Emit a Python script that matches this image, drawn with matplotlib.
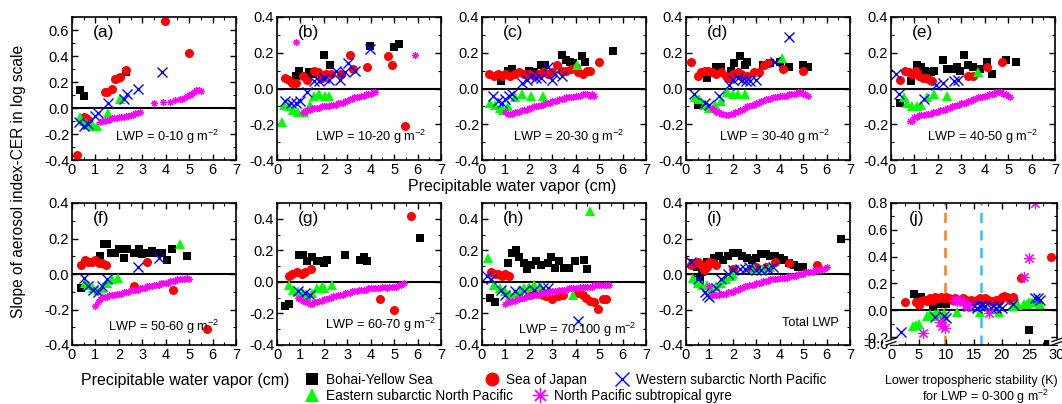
import numpy as np
import matplotlib
matplotlib.use("Agg")
import matplotlib.pyplot as plt
from matplotlib.lines import Line2D
from matplotlib.ticker import MultipleLocator, FixedLocator

plt.rcParams['font.family'] = ['Liberation Sans', 'DejaVu Sans']
plt.rcParams['mathtext.fontset'] = 'custom'
plt.rcParams['mathtext.rm'] = 'Liberation Sans'
plt.rcParams['mathtext.it'] = 'Liberation Sans'

# ---- data: (x, slope) pairs ----
# bys = Bohai-Yellow Sea, soj = Sea of Japan, wsnp = Western subarctic N Pacific,
# esnp = Eastern subarctic N Pacific, npsg = N Pacific subtropical gyre
bys_a = [(0.35, 0.14), (0.5, 0.09), (2.3, 0.28)]
soj_a = [(0.2, -0.36), (0.5, -0.07), (0.6, -0.08), (0.7, -0.09), (1.4, 0.12), (1.5, 0.12), (1.7, 0.15),
         (1.85, 0.22), (1.95, 0.23), (2.05, 0.24), (2.3, 0.29), (3.95, 0.67), (5.0, 0.42)]
wsnp_a = [(0.3, -0.11), (0.5, -0.14), (0.7, -0.12), (1.0, -0.06), (1.1, -0.04), (1.55, 0.04),
          (2.2, 0.07), (2.35, 0.11), (2.8, 0.15), (3.85, 0.28)]
esnp_a = [(0.35, -0.07), (0.5, -0.1), (0.6, -0.12), (0.75, -0.13), (0.9, -0.14), (1.05, -0.14),
          (1.55, -0.04), (2.05, 0.07)]
npsg_a = [(1.2, -0.11), (1.3, -0.10), (1.4, -0.10), (1.5, -0.09), (1.6, -0.09), (1.7, -0.08), (1.8, -0.08),
          (1.9, -0.08), (2.0, -0.07), (2.1, -0.07), (2.2, -0.07), (2.3, -0.06), (2.4, -0.06), (2.5, -0.05),
          (2.6, -0.05), (2.7, -0.04), (2.8, -0.04), (2.9, -0.03), (3.5, 0.04), (3.9, 0.05), (4.2, 0.05),
          (4.4, 0.06), (4.6, 0.07), (4.7, 0.07), (4.8, 0.08), (4.9, 0.09), (5.05, 0.10), (5.1, 0.11),
          (5.2, 0.12), (5.3, 0.14), (5.4, 0.14), (5.5, 0.13)]

bys_b = [(0.8, 0.07), (0.95, 0.1), (1.2, 0.07), (1.35, 0.09), (1.55, 0.08), (2.0, 0.19), (2.25, 0.13),
         (3.95, 0.24), (5.0, 0.23), (5.2, 0.25)]
soj_b = [(0.35, 0.06), (0.5, 0.05), (0.65, 0.03), (0.8, 0.03), (1.1, 0.07), (1.3, 0.05), (1.6, 0.1),
         (1.75, 0.09), (1.9, 0.06), (2.1, 0.08), (2.3, 0.08), (2.75, 0.08), (3.1, 0.19), (3.25, 0.11),
         (3.85, 0.12), (4.75, 0.18), (4.9, 0.13), (5.45, -0.21)]
wsnp_b = [(0.35, -0.07), (0.6, -0.08), (0.8, -0.08), (1.0, -0.07), (1.3, -0.02), (1.6, 0.04), (1.8, 0.04),
          (2.0, 0.06), (2.2, 0.05), (2.5, 0.1), (2.7, 0.05), (2.9, 0.09), (3.05, 0.14), (3.35, 0.1),
          (3.95, 0.22)]
esnp_b = [(0.2, -0.19), (0.3, -0.09), (0.5, -0.1), (0.7, -0.12), (0.9, -0.13), (1.15, -0.13),
          (1.4, -0.09), (1.6, -0.04), (1.8, -0.03), (2.05, -0.04), (2.2, -0.04)]
npsg_b = [(0.8, 0.26), (1.1, -0.13), (1.2, -0.13), (1.3, -0.12), (1.4, -0.12), (1.5, -0.11), (1.6, -0.11),
          (1.7, -0.11), (1.8, -0.11), (1.9, -0.10), (2.0, -0.10), (2.1, -0.10), (2.2, -0.10), (2.3, -0.09),
          (2.4, -0.09), (2.5, -0.09), (2.6, -0.08), (2.7, -0.08), (2.8, -0.08), (2.9, -0.07), (3.0, -0.07),
          (3.1, -0.06), (3.2, -0.06), (3.3, -0.05), (3.4, -0.05), (3.5, -0.05), (3.6, -0.04), (3.7, -0.04),
          (3.8, -0.03), (3.9, -0.03), (4.0, -0.03), (4.1, -0.02), (4.2, -0.02), (5.9, 0.19)]

bys_c = [(0.8, 0.04), (1.1, 0.10), (1.3, 0.11), (2.0, 0.10), (2.2, 0.09), (2.5, 0.13), (2.7, 0.13),
         (3.4, 0.19), (3.6, 0.16), (3.75, 0.15), (3.9, 0.14), (4.25, 0.18), (4.4, 0.15), (5.6, 0.21)]
soj_c = [(0.3, 0.08), (0.5, 0.07), (0.7, 0.08), (0.85, 0.07), (1.0, 0.08), (1.2, 0.07), (1.4, 0.08),
         (1.6, 0.09), (1.8, 0.08), (2.0, 0.08), (2.2, 0.07), (2.4, 0.08), (2.6, 0.09), (2.8, 0.08),
         (3.0, 0.09), (3.2, 0.13), (3.4, 0.10), (3.6, 0.10), (3.8, 0.11), (4.0, 0.12), (4.1, 0.09),
         (4.3, 0.08), (4.5, 0.10), (4.6, 0.10), (5.0, 0.15)]
wsnp_c = [(0.45, -0.04), (0.7, -0.07), (0.85, -0.08), (1.0, -0.06), (1.15, -0.04), (1.3, -0.03),
          (1.7, 0.03), (1.9, 0.05), (2.1, 0.07), (2.3, 0.06), (2.5, 0.06), (2.8, 0.12), (3.0, 0.05),
          (3.1, 0.08), (3.4, 0.07)]
esnp_c = [(0.35, -0.08), (0.55, -0.09), (0.75, -0.11), (0.9, -0.12), (1.1, -0.10), (1.4, -0.05),
          (1.7, -0.03), (2.1, -0.04), (2.6, -0.04), (4.05, 0.13)]
npsg_c = [(1.0, -0.13), (1.1, -0.14), (1.2, -0.14), (1.3, -0.14), (1.4, -0.13), (1.5, -0.13), (1.6, -0.13),
          (1.7, -0.12), (1.8, -0.12), (1.9, -0.12), (2.0, -0.11), (2.1, -0.11), (2.2, -0.10), (2.3, -0.10),
          (2.4, -0.10), (2.5, -0.09), (2.6, -0.09), (2.7, -0.08), (2.8, -0.08), (2.9, -0.08), (3.0, -0.07),
          (3.1, -0.07), (3.2, -0.07), (3.3, -0.06), (3.4, -0.06), (3.5, -0.06), (3.6, -0.05), (3.7, -0.05),
          (3.8, -0.05), (3.9, -0.05), (4.0, -0.04), (4.1, -0.04), (4.2, -0.04), (4.3, -0.03), (4.4, -0.03),
          (4.5, -0.03), (4.6, -0.04), (4.7, -0.03), (4.8, -0.04)]

bys_d = [(0.5, -0.09), (0.9, 0.06), (1.3, 0.12), (1.5, 0.12), (1.9, 0.10), (2.05, 0.14), (2.3, 0.18),
         (2.5, 0.13), (2.6, 0.15), (3.3, 0.13), (3.6, 0.14), (4.0, 0.15), (4.4, 0.12), (5.0, 0.13), (5.2, 0.12)]
soj_d = [(0.2, 0.15), (0.5, 0.07), (0.65, 0.09), (0.8, 0.10), (0.95, 0.10), (1.1, 0.09), (1.3, 0.08),
         (1.5, 0.09), (1.7, 0.07), (1.85, 0.06), (2.0, 0.08), (2.2, 0.09), (2.35, 0.08), (2.6, 0.07),
         (2.9, 0.09), (3.1, 0.09), (3.35, 0.13), (3.5, 0.14), (4.15, 0.11), (5.0, 0.10)]
wsnp_d = [(0.35, -0.03), (0.8, -0.08), (1.0, -0.09), (1.4, -0.04), (1.85, 0.02), (2.0, 0.05), (2.2, 0.06),
          (2.4, 0.05), (2.55, 0.04), (2.75, 0.04), (3.0, 0.05), (3.8, 0.15), (4.4, 0.29)]
esnp_d = [(0.4, -0.05), (0.55, -0.06), (0.75, -0.09), (1.0, -0.11), (1.25, -0.09), (1.5, -0.07),
          (1.75, -0.02), (2.0, -0.03), (2.2, -0.03), (2.5, -0.03), (4.1, 0.17)]
npsg_d = [(1.1, -0.11), (1.2, -0.12), (1.3, -0.13), (1.4, -0.13), (1.5, -0.14), (1.6, -0.14), (1.7, -0.15),
          (1.8, -0.15), (1.9, -0.14), (2.0, -0.14), (2.1, -0.13), (2.2, -0.13), (2.3, -0.12), (2.4, -0.12),
          (2.5, -0.11), (2.6, -0.10), (2.7, -0.10), (2.8, -0.09), (2.9, -0.09), (3.0, -0.08), (3.1, -0.08),
          (3.2, -0.07), (3.3, -0.07), (3.4, -0.06), (3.5, -0.06), (3.6, -0.06), (3.7, -0.05), (3.8, -0.05),
          (3.9, -0.05), (4.0, -0.04), (4.1, -0.04), (4.2, -0.04), (4.3, -0.04), (4.4, -0.03), (4.5, -0.03),
          (4.6, -0.03), (4.7, -0.03), (4.8, -0.02), (4.9, -0.02), (5.0, -0.03), (5.1, -0.03), (5.2, -0.04)]

bys_e = [(0.4, -0.08), (0.85, 0.04), (1.1, 0.13), (1.3, 0.12), (1.45, 0.10), (1.7, 0.09), (1.85, 0.10),
         (2.2, 0.16), (2.4, 0.11), (2.6, 0.11), (2.8, 0.12), (2.95, 0.10), (3.1, 0.19), (3.3, 0.13),
         (3.5, 0.12), (3.8, 0.11), (4.1, 0.15), (4.3, 0.08), (4.9, 0.16), (5.35, 0.15)]
soj_e = [(0.4, 0.05), (0.6, 0.10), (0.75, 0.09), (0.9, 0.08), (1.05, 0.10), (1.2, 0.07), (1.35, 0.06),
         (1.5, 0.06), (1.65, 0.05), (1.75, 0.04), (3.3, 0.07), (3.5, 0.07), (4.1, 0.12), (4.75, 0.15)]
wsnp_e = [(0.2, 0.08), (0.35, -0.03), (1.4, -0.06), (1.9, 0.02), (2.2, 0.03), (2.7, 0.04), (2.85, 0.05)]
esnp_e = [(0.55, -0.05), (0.7, -0.08), (0.9, -0.10), (1.1, -0.10), (1.3, -0.09), (1.55, -0.05),
          (1.85, -0.03), (2.4, -0.04), (3.7, 0.09)]
npsg_e = [(0.8, -0.18), (0.9, -0.18), (1.0, -0.16), (1.1, -0.16), (1.2, -0.15), (1.3, -0.15), (1.4, -0.15),
          (1.5, -0.14), (1.6, -0.14), (1.7, -0.14), (1.8, -0.13), (1.9, -0.13), (2.0, -0.13), (2.1, -0.12),
          (2.2, -0.12), (2.3, -0.12), (2.4, -0.11), (2.5, -0.11), (2.6, -0.10), (2.7, -0.10), (2.8, -0.09),
          (2.9, -0.09), (3.0, -0.08), (3.1, -0.08), (3.2, -0.08), (3.3, -0.07), (3.4, -0.07), (3.5, -0.06),
          (3.6, -0.06), (3.7, -0.05), (3.8, -0.05), (3.9, -0.05), (4.0, -0.04), (4.1, -0.04), (4.2, -0.03),
          (4.3, -0.03), (4.4, -0.03), (4.5, -0.02), (4.6, -0.02), (4.7, -0.02), (4.8, -0.03), (4.9, -0.03),
          (5.0, -0.04), (5.1, -0.05)]

bys_f = [(0.4, -0.08), (0.8, 0.07), (1.2, 0.10), (1.35, 0.17), (1.5, 0.17), (1.65, 0.12), (1.85, 0.12),
         (2.0, 0.14), (2.2, 0.09), (2.35, 0.14), (2.65, 0.12), (2.85, 0.14), (3.0, 0.11), (3.2, 0.12),
         (3.4, 0.13), (3.55, 0.12), (3.85, 0.12), (4.05, 0.08), (4.25, 0.14), (4.9, 0.10)]
soj_f = [(0.4, 0.05), (0.55, 0.08), (0.7, 0.07), (0.85, 0.07), (1.0, 0.08), (1.15, 0.06), (1.3, 0.06),
         (1.45, 0.05), (2.65, -0.07), (3.2, 0.07), (4.3, -0.09), (5.75, -0.31)]
wsnp_f = [(0.5, -0.02), (0.7, -0.07), (0.9, -0.09), (1.1, -0.10), (1.3, -0.07), (1.5, -0.03),
          (2.8, 0.04), (3.7, 0.09)]
esnp_f = [(0.55, -0.05), (0.7, -0.06), (0.9, -0.08), (1.1, -0.09), (1.3, -0.08), (1.5, -0.05),
          (1.7, -0.03), (1.95, -0.02), (4.6, 0.17)]
npsg_f = [(1.0, -0.18), (1.1, -0.16), (1.2, -0.14), (1.3, -0.13), (1.4, -0.13), (1.5, -0.13), (1.6, -0.12),
          (1.7, -0.12), (1.8, -0.12), (1.9, -0.11), (2.0, -0.11), (2.1, -0.11), (2.2, -0.10), (2.3, -0.10),
          (2.4, -0.10), (2.5, -0.09), (2.6, -0.09), (2.7, -0.09), (2.8, -0.09), (2.9, -0.08), (3.0, -0.08),
          (3.1, -0.08), (3.2, -0.07), (3.3, -0.07), (3.4, -0.07), (3.5, -0.06), (3.6, -0.06), (3.7, -0.06),
          (3.8, -0.05), (3.9, -0.05), (4.0, -0.05), (4.1, -0.05), (4.2, -0.04), (4.3, -0.04), (4.4, -0.04),
          (4.5, -0.03), (4.6, -0.03), (4.7, -0.03), (4.8, -0.03), (4.9, -0.02), (5.0, -0.03)]

bys_g = [(0.35, -0.15), (0.5, -0.14), (0.95, 0.17), (1.1, 0.17), (1.3, 0.13), (1.5, 0.16), (1.7, 0.13),
         (1.9, 0.13), (2.0, 0.12), (2.15, 0.14), (2.9, 0.17), (3.55, 0.14), (3.7, 0.16), (3.85, 0.13),
         (6.1, 0.28)]
soj_g = [(0.5, 0.04), (0.65, 0.05), (0.85, 0.06), (1.05, 0.05), (1.2, 0.06), (1.45, 0.08), (4.4, -0.11),
         (5.0, -0.18), (5.7, 0.42)]
wsnp_g = [(0.9, -0.06), (1.2, -0.07), (1.4, -0.08)]
esnp_g = [(0.5, -0.02), (0.7, -0.05), (0.9, -0.06), (1.1, -0.07), (1.3, -0.09), (1.5, -0.07), (1.7, -0.04),
          (1.9, -0.03), (2.0, -0.04), (2.35, -0.02)]
npsg_g = [(0.9, -0.10), (1.0, -0.11), (1.1, -0.12), (1.2, -0.13), (1.3, -0.13), (1.4, -0.14), (1.5, -0.14),
          (1.6, -0.13), (1.7, -0.13), (1.8, -0.12), (1.9, -0.12), (2.0, -0.11), (2.1, -0.11), (2.2, -0.10),
          (2.3, -0.10), (2.4, -0.09), (2.5, -0.09), (2.6, -0.08), (2.7, -0.08), (2.8, -0.08), (2.9, -0.07),
          (3.0, -0.07), (3.1, -0.07), (3.2, -0.06), (3.3, -0.06), (3.4, -0.06), (3.5, -0.05), (3.6, -0.05),
          (3.7, -0.05), (3.8, -0.05), (3.9, -0.04), (4.0, -0.04), (4.1, -0.04), (4.2, -0.04), (4.3, -0.04),
          (4.4, -0.04), (4.5, -0.03), (4.6, -0.03), (4.7, -0.04), (4.8, -0.03), (4.9, -0.03), (5.0, -0.03),
          (5.1, -0.03), (5.2, -0.02), (5.3, -0.02), (5.4, -0.01)]

bys_h = [(0.35, -0.10), (0.55, -0.13), (1.1, 0.12), (1.3, 0.18), (1.45, 0.20), (1.6, 0.16), (1.8, 0.12),
         (1.9, 0.08), (2.1, 0.11), (2.3, 0.13), (2.5, 0.11), (2.8, 0.12), (2.95, 0.16), (3.1, 0.09),
         (3.3, 0.13), (3.5, 0.09), (3.7, 0.09), (3.95, 0.13), (4.35, 0.14), (4.5, 0.08)]
soj_h = [(0.4, 0.06), (0.55, 0.05), (0.7, 0.05), (0.85, 0.04), (1.0, 0.05), (1.15, 0.04), (2.0, -0.08),
         (2.3, -0.06), (2.6, -0.08), (2.75, -0.09), (3.0, -0.11), (3.25, -0.09), (3.45, -0.08),
         (4.1, -0.07), (4.3, -0.08), (4.45, -0.10), (4.6, -0.12), (4.8, -0.13), (4.95, -0.17),
         (5.15, -0.11), (5.3, -0.11)]
wsnp_h = [(0.2, 0.04), (0.4, 0.02), (0.8, -0.05), (1.0, -0.08), (1.4, -0.06), (1.8, -0.06), (2.2, -0.05),
          (2.6, -0.04), (2.8, -0.04), (4.1, -0.25)]
esnp_h = [(0.25, 0.15), (0.5, -0.02), (0.75, -0.04), (1.0, -0.06), (1.2, -0.08), (1.4, -0.07), (1.6, -0.05),
          (1.8, -0.04), (2.0, -0.03), (2.2, -0.02), (2.5, -0.03), (3.9, -0.08), (4.6, 0.45)]
npsg_h = [(1.0, -0.14), (1.1, -0.13), (1.2, -0.13), (1.3, -0.12), (1.4, -0.12), (1.5, -0.11), (1.6, -0.11),
          (1.7, -0.10), (1.8, -0.10), (1.9, -0.09), (2.0, -0.09), (2.1, -0.09), (2.2, -0.08), (2.3, -0.08),
          (2.4, -0.08), (2.5, -0.07), (2.6, -0.07), (2.7, -0.07), (2.8, -0.07), (2.9, -0.06), (3.0, -0.06),
          (3.1, -0.06), (3.2, -0.06), (3.3, -0.05), (3.4, -0.05), (3.5, -0.05), (3.6, -0.05), (3.7, -0.04),
          (3.8, -0.04), (3.9, -0.04), (4.0, -0.04), (4.1, -0.04), (4.2, -0.03), (4.3, -0.03), (4.4, -0.03),
          (4.5, -0.03), (4.6, -0.03), (4.7, -0.03), (4.8, -0.02), (4.9, -0.02), (5.0, -0.02), (5.1, -0.02),
          (5.2, -0.02), (5.3, -0.02), (5.4, -0.02)]

bys_i = [(0.3, 0.06), (0.45, 0.04), (0.6, -0.03), (0.7, 0.01), (0.9, 0.07), (1.1, 0.07), (1.2, 0.09),
         (1.4, 0.10), (1.6, 0.08), (1.8, 0.10), (2.0, 0.12), (2.2, 0.12), (2.4, 0.10), (2.6, 0.09),
         (2.8, 0.08), (3.0, 0.09), (3.2, 0.11), (3.4, 0.11), (3.6, 0.10), (3.8, 0.10), (4.0, 0.09),
         (4.2, 0.08), (4.4, 0.06), (4.6, 0.05), (4.8, 0.04), (5.0, 0.04), (6.6, 0.20)]
soj_i = [(0.2, 0.05), (0.35, 0.06), (0.5, 0.07), (0.65, 0.05), (0.75, 0.02), (0.9, 0.04), (1.0, 0.07),
         (1.15, 0.06), (1.3, 0.05), (2.0, 0.03), (2.8, 0.03), (3.0, 0.04), (3.4, 0.04), (3.8, 0.07),
         (4.4, 0.06), (5.6, 0.05)]
wsnp_i = [(0.2, 0.07), (0.5, -0.03), (0.8, -0.10), (0.9, -0.12), (1.0, -0.13), (1.3, -0.08), (1.5, -0.03),
          (1.8, 0.00), (2.0, 0.02), (2.3, 0.03), (2.5, 0.03), (2.7, 0.04), (3.0, 0.02), (3.2, 0.02),
          (3.5, 0.03), (3.7, 0.04)]
esnp_i = [(0.3, -0.02), (0.5, -0.05), (0.7, -0.06), (0.9, -0.06), (1.1, -0.08), (1.3, -0.07), (1.5, -0.05),
          (1.7, -0.03), (1.9, -0.01), (2.0, 0.0), (2.9, 0.03), (3.3, 0.03), (3.6, 0.04)]
npsg_i = [(1.0, -0.07), (1.1, -0.12), (1.2, -0.12), (1.3, -0.12), (1.4, -0.12), (1.5, -0.11), (1.6, -0.11),
          (1.7, -0.11), (1.8, -0.10), (1.9, -0.10), (2.0, -0.10), (2.1, -0.09), (2.2, -0.09), (2.3, -0.08),
          (2.4, -0.08), (2.5, -0.07), (2.6, -0.07), (2.7, -0.06), (2.8, -0.06), (2.9, -0.06), (3.0, -0.05),
          (3.1, -0.05), (3.2, -0.05), (3.3, -0.04), (3.4, -0.04), (3.5, -0.04), (3.6, -0.03), (3.7, -0.03),
          (3.8, -0.03), (3.9, -0.03), (4.0, -0.02), (4.1, -0.02), (4.2, -0.02), (4.3, -0.02), (4.4, -0.01),
          (4.5, -0.01), (4.6, -0.01), (4.7, -0.01), (4.8, 0.00), (4.9, 0.00), (5.0, 0.00), (5.1, 0.01),
          (5.2, 0.01), (5.3, 0.01), (5.4, 0.01), (5.5, 0.02), (5.6, 0.02), (5.7, 0.02), (5.8, 0.03),
          (5.9, 0.03), (6.0, 0.04)]

# panel (j): x = lower tropospheric stability (K)
bys_j = [(4.2, 0.12), (4.8, 0.08), (5.5, 0.10), (6.0, 0.08), (7.0, 0.06), (7.5, 0.04), (8.0, 0.06),
         (9.0, 0.05), (10.0, 0.05), (25.0, -0.15), (28.3, -0.6)]
soj_j = [(2.5, 0.06), (4.5, 0.06), (5.0, 0.04), (5.5, 0.07), (6.0, 0.08), (6.5, 0.07), (7.0, 0.09),
         (7.5, 0.08), (8.0, 0.10), (8.5, 0.09), (9.0, 0.10), (9.5, 0.09), (10.0, 0.10), (10.5, 0.09),
         (11.0, 0.08), (11.5, 0.09), (12.0, 0.08), (12.5, 0.08), (13.0, 0.09), (13.5, 0.08), (14.0, 0.07),
         (14.5, 0.08), (15.0, 0.07), (15.5, 0.08), (16.0, 0.09), (16.5, 0.08), (17.0, 0.09), (17.5, 0.08),
         (18.0, 0.07), (18.5, 0.06), (19.0, 0.08), (19.5, 0.07), (20.0, 0.10), (20.5, 0.11), (21.0, 0.10),
         (21.5, 0.08), (22.0, 0.10), (23.5, 0.24), (29.0, 0.40)]
wsnp_j = [(1.8, -0.16), (8.0, -0.05), (9.5, -0.04), (10.0, -0.06), (13.5, 0.04), (14.0, 0.03), (15.0, 0.03),
          (15.5, 0.02), (16.0, 0.03), (16.5, 0.04), (17.0, 0.03), (18.0, 0.02), (18.5, 0.03), (19.0, 0.02),
          (19.5, 0.03), (20.0, 0.02), (22.0, 0.05), (26.0, 0.09), (26.5, 0.09), (27.0, 0.08)]
esnp_j = [(4.0, -0.12), (4.5, -0.11), (5.0, -0.10), (6.5, -0.04), (7.0, -0.03), (7.5, -0.04), (8.0, -0.03),
          (8.5, -0.02), (9.5, -0.02), (12.0, -0.01), (16.0, -0.01), (19.5, -0.01), (22.0, 0.03),
          (22.5, 0.04), (23.0, 0.04), (24.0, 0.05), (24.5, 0.05), (25.0, 0.06), (25.5, 0.06), (26.0, 0.07),
          (26.5, 0.08), (27.0, 0.05)]
npsg_j = [(5.8, -0.17), (8.8, -0.09), (9.2, -0.12), (9.7, -0.13), (11.5, 0.08), (12.0, 0.07), (12.5, 0.08),
          (13.0, 0.06), (13.5, 0.04), (14.0, 0.03), (17.8, -0.02), (24.0, 0.25), (25.0, 0.39), (26.0, 0.80)]
ltss_lines = [9.8, 16.2]

region_names = ['Bohai-Yellow Sea', 'Sea of Japan', 'Western subarctic North Pacific',
                'Eastern subarctic North Pacific', 'North Pacific subtropical gyre']
panel_tags = ['(a)', '(b)', '(c)', '(d)', '(e)', '(f)', '(g)', '(h)', '(i)']
lwp_labels = ['LWP = 0-10 g m$^{-2}$', 'LWP = 10-20 g m$^{-2}$', 'LWP = 20-30 g m$^{-2}$',
              'LWP = 30-40 g m$^{-2}$', 'LWP = 40-50 g m$^{-2}$', 'LWP = 50-60 g m$^{-2}$',
              'LWP = 60-70 g m$^{-2}$', 'LWP = 70-100 g m$^{-2}$', 'Total LWP']

panel_data = [
    (bys_a, soj_a, wsnp_a, esnp_a, npsg_a), (bys_b, soj_b, wsnp_b, esnp_b, npsg_b),
    (bys_c, soj_c, wsnp_c, esnp_c, npsg_c), (bys_d, soj_d, wsnp_d, esnp_d, npsg_d),
    (bys_e, soj_e, wsnp_e, esnp_e, npsg_e), (bys_f, soj_f, wsnp_f, esnp_f, npsg_f),
    (bys_g, soj_g, wsnp_g, esnp_g, npsg_g), (bys_h, soj_h, wsnp_h, esnp_h, npsg_h),
    (bys_i, soj_i, wsnp_i, esnp_i, npsg_i),
]
ylims = [(-0.4, 0.7), (-0.4, 0.4), (-0.4, 0.4), (-0.4, 0.4), (-0.4, 0.4),
         (-0.4, 0.4), (-0.4, 0.5), (-0.4, 0.5), (-0.4, 0.4)]
lwp_pos = [(0.58, 0.16), (0.57, 0.16), (0.53, 0.16), (0.54, 0.16), (0.56, 0.16),
           (0.56, 0.13), (0.63, 0.14), (0.58, 0.105), (0.76, 0.155)]

# marker styles: black squares, red dots, blue crosses, green triangles, magenta asterisks
styles = [
    dict(marker='s', color='black', ms=5.5, mew=0),
    dict(marker='o', color='#FF0000', ms=6.5, mew=0),
    dict(marker='x', color='#0000FF', ms=6.5, mew=1.0),
    dict(marker='^', color='#00FF00', ms=6.5, mew=0),
    dict(marker=(8, 2, 0), color='#FF00FF', ms=5, mew=0.8),
]
draw_order = [0, 1, 3, 2, 4]

W, H = 1062, 404
fig = plt.figure(figsize=(W / 100, H / 100), dpi=100)


def add_ax(left, top, width, bottom):
    return fig.add_axes([left / W, 1 - bottom / H, width / W, (bottom - top) / H])


def style_ax(ax):
    for sp in ax.spines.values():
        sp.set_linewidth(1.2)
    ax.tick_params(which='both', direction='in', top=True, right=True, labelsize=10.5, pad=2)
    ax.tick_params(which='major', length=4, width=1)
    ax.tick_params(which='minor', length=2.2, width=0.8)


lefts = [72, 277, 482, 686, 891]
rows = [(17, 160), (203, 345)]

for k in range(9):
    top, bot = rows[k // 5]
    ax = add_ax(lefts[k % 5], top, 164, bot)
    for s in draw_order:
        pts = np.array(panel_data[k][s])
        st = styles[s]
        ax.plot(pts[:, 0], pts[:, 1], ls='none', marker=st['marker'], color=st['color'],
                ms=st['ms'], mew=st['mew'], clip_on=True)
    ax.axhline(0, color='black', lw=1.5, zorder=1)
    ax.set_xlim(0, 7)
    ax.set_ylim(*ylims[k])
    ax.xaxis.set_major_locator(MultipleLocator(1))
    ax.xaxis.set_minor_locator(MultipleLocator(0.5))
    ax.yaxis.set_major_locator(MultipleLocator(0.2))
    ax.yaxis.set_minor_locator(MultipleLocator(0.1))
    ax.yaxis.set_major_formatter(lambda v, p: f'{v:.1f}')
    style_ax(ax)
    ax.text(0.13, 0.89, panel_tags[k], transform=ax.transAxes, fontsize=12.5, va='center', ha='left')
    ax.text(lwp_pos[k][0], lwp_pos[k][1], lwp_labels[k], transform=ax.transAxes,
            fontsize=9.2, va='center', ha='center')


# panel (j) with a broken y axis below -0.2
def fwd(y):
    y = np.asarray(y, dtype=float)
    return np.where(y >= -0.23, y, -0.23 + (y + 0.23) * 0.054)


def inv(t):
    t = np.asarray(t, dtype=float)
    return np.where(t >= -0.23, t, -0.23 + (t + 0.23) / 0.054)


axj = add_ax(891, 203, 166, 345)
axj.set_yscale('function', functions=(fwd, inv))
axj.axvline(ltss_lines[0], color='#FF7F0E', ls=(0, (4, 3)), lw=1.8, zorder=1)
axj.axvline(ltss_lines[1], color='#29C5F6', ls=(0, (4, 3)), lw=1.8, zorder=1)
jdata = (bys_j, soj_j, wsnp_j, esnp_j, npsg_j)
for s in draw_order:
    pts = np.array(jdata[s])
    st = styles[s]
    ms = 8 if s == 4 else st['ms']
    axj.plot(pts[:, 0], pts[:, 1], ls='none', marker=st['marker'], color=st['color'],
             ms=ms, mew=st['mew'])
axj.axhline(0, color='black', lw=1.5, zorder=1)
axj.set_xlim(0, 30)
axj.set_ylim(-0.76, 0.8)
axj.xaxis.set_major_locator(MultipleLocator(5))
axj.xaxis.set_minor_locator(MultipleLocator(2.5))
axj.yaxis.set_major_locator(FixedLocator([-0.6, -0.2, 0.0, 0.2, 0.4, 0.6, 0.8]))
axj.yaxis.set_minor_locator(FixedLocator([-0.1, 0.1, 0.3, 0.5, 0.7]))
axj.yaxis.set_major_formatter(lambda v, p: f'{v:.1f}')
style_ax(axj)
axj.text(0.11, 0.89, '(j)', transform=axj.transAxes, fontsize=12.5, va='center', ha='left')
# break marks on both sides
for xb in (0, 1):
    axj.plot([xb - 0.03, xb + 0.03], [0.024, 0.024], transform=axj.transAxes, color='white',
             lw=4, clip_on=False, zorder=5)
    for dy in (-0.012, 0.012):
        axj.plot([xb - 0.03, xb + 0.03], [0.012 + dy, 0.036 + dy], transform=axj.transAxes,
                 color='black', lw=0.9, clip_on=False, zorder=6)

# axis titles
fig.text(19 / W, 1 - 181 / H, 'Slope of aerosol index-CER in log scale', rotation=90,
         ha='center', va='center', fontsize=11.2)
fig.text(512 / W, 1 - 187 / H, 'Precipitable water vapor (cm)', ha='center', va='center', fontsize=11.5)
fig.text(185 / W, 1 - 380 / H, 'Precipitable water vapor (cm)', ha='center', va='center', fontsize=11.5)
fig.text(971 / W, 1 - 381 / H, 'Lower tropospheric stability (K)', ha='center', va='center', fontsize=9)
fig.text(986 / W, 1 - 397 / H, 'for LWP = 0-300 g m$^{-2}$', ha='center', va='center', fontsize=9)

# legend: one entry per region, placed where the reference has it
leg_styles = [
    dict(marker='s', color='black', ms=8, mew=0),
    dict(marker='o', color='#FF0000', ms=10, mew=0),
    dict(marker='x', color='#0000FF', ms=10, mew=1.0),
    dict(marker='^', color='#00FF00', ms=10, mew=0),
    dict(marker=(8, 2, 0), color='#FF00FF', ms=11, mew=0.9),
]
leg_spots = [(312, 380), (492, 380), (622, 380), (312, 396), (540, 396)]
for st, name, (px, py) in zip(leg_styles, region_names, leg_spots):
    h = Line2D([], [], ls='none', **st)
    fig.legend([h], [name], frameon=False, loc='center left',
               bbox_to_anchor=((px - 8) / W, 1 - py / H), fontsize=9.8,
               handletextpad=0.4, borderaxespad=0, borderpad=0, handlelength=1.2)

fig.savefig('out.png', dpi=100)
